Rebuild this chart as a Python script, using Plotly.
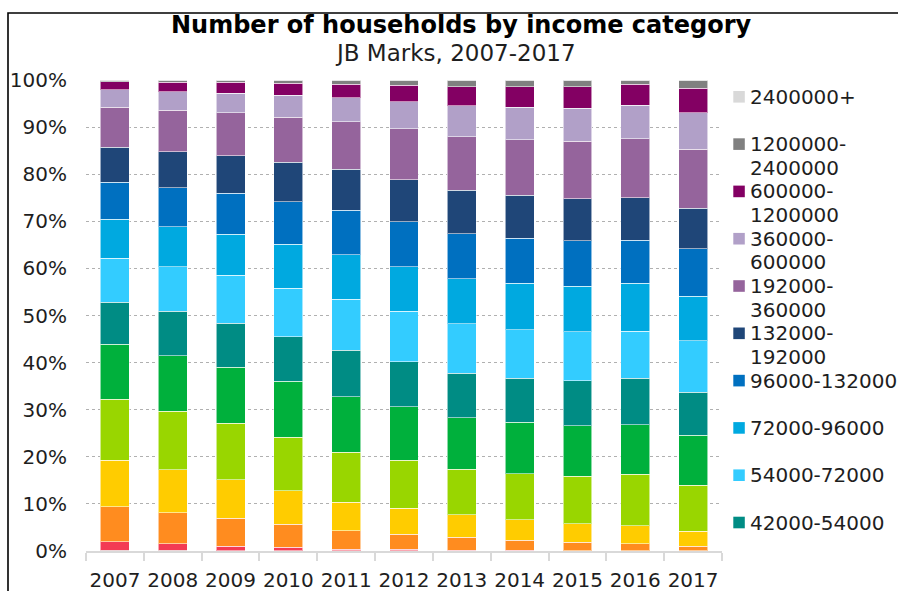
import plotly.graph_objects as go

# Household income distribution, JB Marks 2007-2017 (share of households, %)
years = ["2007", "2008", "2009", "2010", "2011", "2012", "2013", "2014", "2015", "2016", "2017"]

categories = [
    "0-2400", "2400-6000", "6000-12000", "12000-18000", "18000-30000",
    "30000-42000", "42000-54000", "54000-72000", "72000-96000", "96000-132000",
    "132000-192000", "192000-360000", "360000-600000", "600000-1200000",
    "1200000-2400000", "2400000+",
]

inc_0_2400 = [0.15, 0.15, 0.1, 0.1, 0.05, 0.05, 0.05, 0.03, 0.03, 0.03, 0.03]
inc_2400_6000 = [1.85, 1.35, 0.95, 0.7, 0.35, 0.3, 0.15, 0.09, 0.07, 0.07, 0.05]
inc_6000_12000 = [7.35, 6.65, 5.9, 4.85, 3.95, 3.25, 2.75, 2.15, 1.75, 1.4, 0.97]
inc_12000_18000 = [9.95, 9.15, 8.15, 7.15, 6.05, 5.5, 4.8, 4.33, 3.95, 3.9, 3.15]
inc_18000_30000 = [12.9, 12.4, 12.0, 11.3, 10.6, 10.2, 9.65, 9.8, 10.1, 10.9, 9.8]
inc_30000_42000 = [11.7, 11.8, 11.9, 11.9, 11.8, 11.3, 10.9, 10.9, 10.7, 10.5, 10.6]
inc_42000_54000 = [8.9, 9.4, 9.4, 9.5, 9.8, 9.6, 9.4, 9.4, 9.6, 9.9, 9.1]
inc_54000_72000 = [9.4, 9.4, 10.1, 10.3, 10.9, 10.7, 10.5, 10.3, 10.3, 10.0, 10.9]
inc_72000_96000 = [8.2, 8.5, 8.8, 9.3, 9.4, 9.5, 9.6, 9.9, 9.7, 10.2, 9.5]
inc_96000_132000 = [7.9, 8.3, 8.7, 9.0, 9.5, 9.5, 9.6, 9.5, 9.7, 9.1, 10.1]
inc_132000_192000 = [7.4, 7.7, 7.9, 8.4, 8.6, 8.9, 9.2, 9.1, 8.9, 9.0, 8.6]
inc_192000_360000 = [8.5, 8.8, 9.2, 9.6, 10.1, 10.8, 11.4, 11.8, 12.2, 12.5, 12.5]
inc_360000_600000 = [3.7, 3.9, 4.1, 4.7, 5.1, 5.8, 6.5, 6.9, 7.0, 7.1, 7.8]
inc_600000_1200000 = [1.7, 2.05, 2.35, 2.5, 2.95, 3.5, 4.1, 4.4, 4.6, 4.5, 5.2]
inc_1200000_2400000 = [0.3, 0.35, 0.35, 0.6, 0.75, 1.0, 1.3, 1.3, 1.3, 0.8, 1.6]
inc_2400000_plus = [0.1, 0.1, 0.1, 0.1, 0.1, 0.1, 0.1, 0.1, 0.1, 0.1, 0.1]

series = [
    inc_0_2400, inc_2400_6000, inc_6000_12000, inc_12000_18000, inc_18000_30000,
    inc_30000_42000, inc_42000_54000, inc_54000_72000, inc_72000_96000,
    inc_96000_132000, inc_132000_192000, inc_192000_360000, inc_360000_600000,
    inc_600000_1200000, inc_1200000_2400000, inc_2400000_plus,
]

colors = [
    "#a8323e", "#f33b54", "#ff8c1f", "#ffcc00", "#99d600", "#00b03c",
    "#008c84", "#33ccff", "#00a9e0", "#0070c0", "#1f4678", "#95649c",
    "#b1a0c8", "#830063", "#808080", "#d9d9d9",
]

# Legend entries shown at the right (top-most income bands), with wrapped labels
legend_lines = [
    ["2400000+"],
    ["1200000-", "2400000"],
    ["600000-", "1200000"],
    ["360000-", "600000"],
    ["192000-", "360000"],
    ["132000-", "192000"],
    ["96000-132000"],
    ["72000-96000"],
    ["54000-72000"],
    ["42000-54000"],
]
legend_colors = colors[::-1][:len(legend_lines)]

W, H = 898, 591
ML, MR, MT, MB = 86, 176, 80, 40.3
PW, PH = W - ML - MR, H - MT - MB


def px_x(x):
    return (x - ML) / PW


def px_y(y):
    return (H - MB - y) / PH


TEXT = "#1e1e1e"
FONT = "DejaVu Sans, Verdana, sans-serif"

fig = go.Figure()
for name, vals, col in zip(categories, series, colors):
    fig.add_trace(go.Bar(
        x=years, y=vals, name=name,
        marker=dict(color=col, line=dict(color="rgba(255,255,255,0.55)", width=1)),
        showlegend=False,
    ))

shapes = [
    # outer frame
    dict(type="rect", xref="paper", yref="paper",
         x0=px_x(8), x1=px_x(910), y0=px_y(610), y1=px_y(13),
         line=dict(color="black", width=1.6), fillcolor="rgba(0,0,0,0)", layer="above"),
]
annotations = [
    dict(text="<b>Number of households by income category</b>", xref="paper", yref="paper",
         x=px_x(461), y=px_y(25), xanchor="center", yanchor="middle", showarrow=False,
         font=dict(family=FONT, size=24, color="black")),
    dict(text="JB Marks, 2007-2017", xref="paper", yref="paper",
         x=px_x(455), y=px_y(53), xanchor="center", yanchor="middle", showarrow=False,
         font=dict(family=FONT, size=23, color=TEXT)),
]

pitch = 47.27
first = 96.8
for i, (lines, col) in enumerate(zip(legend_lines, legend_colors)):
    cy = first + i * pitch
    shapes.append(dict(type="rect", xref="paper", yref="paper",
                       x0=px_x(733.3), x1=px_x(744.8), y0=px_y(cy + 5.8), y1=px_y(cy - 5.8),
                       line=dict(width=0), fillcolor=col))
    for j, line in enumerate(lines):
        annotations.append(dict(text=line, xref="paper", yref="paper",
                                x=px_x(748), y=px_y(cy + j * 23.7),
                                xanchor="left", yanchor="middle", showarrow=False,
                                font=dict(family=FONT, size=20, color=TEXT)))

fig.update_layout(
    width=W, height=H,
    margin=dict(l=ML, r=MR, t=MT, b=MB, autoexpand=False),
    paper_bgcolor="white", plot_bgcolor="white",
    barmode="stack", bargap=0.5,
    font=dict(family=FONT, size=20, color=TEXT),
    shapes=shapes, annotations=annotations,
    showlegend=False,
    xaxis=dict(
        type="category", showgrid=False, showline=True, linecolor="#d9d9d9", linewidth=2,
        ticks="outside", tickson="boundaries", ticklen=8, tickcolor="#d9d9d9", tickwidth=2,
        tickangle=0, ticklabelstandoff=10,
        tickfont=dict(family=FONT, size=20, color=TEXT),
    ),
    yaxis=dict(
        range=[0, 100], dtick=10, ticksuffix="%", showline=False, zeroline=False,
        showgrid=True, gridcolor="#b0b0b0", griddash="dot", gridwidth=1,
        ticks="", ticklabelstandoff=18,
        tickfont=dict(family=FONT, size=20, color=TEXT),
    ),
)

fig.write_html("out.html")
